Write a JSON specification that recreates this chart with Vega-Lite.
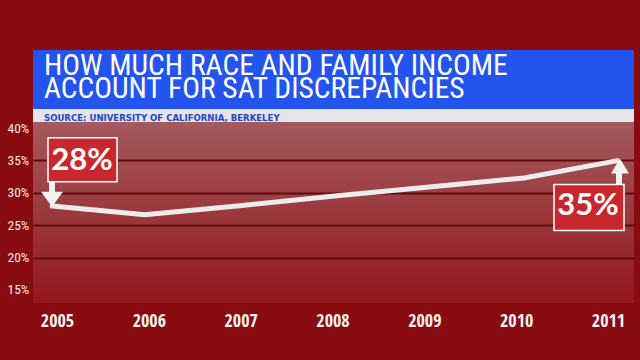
{
  "$schema": "https://vega.github.io/schema/vega-lite/v6.json",
  "background": "#870b0f",
  "padding": {"left": 7, "top": 50, "right": 10, "bottom": 40},
  "autosize": {"type": "pad"},
  "bounds": "flush",
  "spacing": 0,
  "config": {"view": {"stroke": null}, "font": "Roboto Condensed, Roboto, sans-serif"},
  "datasets": {
    "sat": [
      {"year": 2005, "value": 28},
      {"year": 2006, "value": 26.6},
      {"year": 2007, "value": 28.0},
      {"year": 2008, "value": 29.5},
      {"year": 2009, "value": 30.9},
      {"year": 2010, "value": 32.3},
      {"year": 2011, "value": 35}
    ],
    "callouts": [
      {"year": 2005, "value": 28, "label": "28%"},
      {"year": 2011, "value": 35, "label": "35%"}
    ]
  },
  "vconcat": [
    {
      "width": 601,
      "height": 59,
      "view": {"fill": "#2354ee", "stroke": null},
      "title": {
        "text": ["HOW MUCH RACE AND FAMILY INCOME", "ACCOUNT FOR SAT DISCREPANCIES"],
        "anchor": "start", "orient": "top", "frame": "group",
        "offset": -54, "dx": 11, "baseline": "top",
        "font": "Roboto Condensed", "fontSize": 29.5, "fontWeight": "normal",
        "color": "#ffffff", "lineHeight": 23
      },
      "data": {"values": []},
      "mark": "point"
    },
    {
      "width": 601,
      "height": 13,
      "view": {"fill": "#e4e4ea", "stroke": null},
      "title": {
        "text": "SOURCE: UNIVERSITY OF CALIFORNIA, BERKELEY",
        "anchor": "start", "orient": "top", "frame": "group",
        "offset": -13, "dx": 11, "baseline": "top",
        "font": "DejaVu Sans Condensed", "fontSize": 9.5, "fontWeight": "bold",
        "color": "#2446c4"
      },
      "data": {"values": []},
      "mark": "point"
    },
    {
      "width": 601,
      "height": 181,
      "view": {
        "fill": {"gradient": "linear", "x1": 0, "y1": 0, "x2": 0, "y2": 1,
          "stops": [{"offset": 0, "color": "#a35a5e"}, {"offset": 1, "color": "#93171b"}]},
        "stroke": null
      },
      "encoding": {
        "x": {
          "field": "year", "type": "quantitative",
          "scale": {"domain": [2004.8207, 2011.1582], "nice": false, "zero": false},
          "axis": {
            "title": null, "values": [2005, 2006, 2007, 2008, 2009, 2010, 2011], "format": "d",
            "grid": false, "ticks": false, "tickSize": 0, "domain": false,
            "labelFontSize": 18, "labelFontWeight": "bold", "labelColor": "#f2f2f2",
            "labelFont": "Open Sans Condensed", "labelPadding": 9,
            "labelFlush": false, "labelOverlap": false, "labelBaseline": "top",
            "labelOffset": {
              "condition": [
                {"test": "datum.value == 2005", "value": 7},
                {"test": "datum.value == 2006", "value": 4},
                {"test": "datum.value == 2007", "value": 1},
                {"test": "datum.value == 2008", "value": -2},
                {"test": "datum.value == 2009", "value": -5},
                {"test": "datum.value == 2010", "value": -8},
                {"test": "datum.value == 2011", "value": -11}
              ],
              "value": 0
            }
          }
        },
        "y": {
          "field": "value", "type": "quantitative",
          "scale": {"domain": [12.99, 40.93], "nice": false, "zero": false},
          "axis": {
            "title": null, "values": [15, 20, 25, 30, 35, 40], "labelExpr": "datum.value + '%'",
            "ticks": false, "tickSize": 0, "domain": false,
            "labelAlign": "left", "labelPadding": 26, "labelBaseline": "middle",
            "labelFontSize": 13.5, "labelColor": "#f4eaea", "labelFont": "Roboto Condensed",
            "labelFlush": false, "labelOverlap": false,
            "grid": true, "gridWidth": 2,
            "gridColor": {"condition": {"test": "datum.value == 15 || datum.value == 40", "value": "rgba(0,0,0,0)"}, "value": "#5e0a0e"}
          }
        }
      },
      "layer": [
        {
          "data": {"name": "sat"},
          "mark": {"type": "line", "color": "#ececec", "strokeWidth": 5, "strokeJoin": "miter"}
        },
        {
          "data": {"name": "callouts"},
          "mark": {"type": "point", "filled": true, "fill": "#f2f2f2", "opacity": 1, "size": 400, "strokeWidth": 0},
          "encoding": {
            "shape": {
              "field": "label", "type": "nominal", "legend": null,
              "scale": {"domain": ["28%", "35%"], "range": [
                "M-0.1,-2.5L0.5,-2.5L0.5,-1.4L1.3,-1.4L0.2,0.1L-0.9,-1.4L-0.1,-1.4Z",
                "M-0.3,2.5L0.3,2.5L0.3,1.3L1.0,1.3L0.1,-0.2L-0.8,1.3L-0.3,1.3Z"
              ]}
            }
          }
        },
        {
          "data": {"name": "callouts"},
          "mark": {"type": "point", "filled": true, "fill": "#c8282d", "stroke": "#ffffff", "strokeWidth": 1.5, "opacity": 1, "size": 400},
          "encoding": {
            "shape": {
              "field": "label", "type": "nominal", "legend": null,
              "scale": {"domain": ["28%", "35%"], "range": [
                "M-0.2,-6.8L6.7,-6.8L6.7,-2.4L-0.2,-2.4Z",
                "M-6.5,2.4L0.5,2.4L0.5,7.0L-6.5,7.0Z"
              ]}
            }
          }
        },
        {
          "data": {"name": "callouts"},
          "transform": [{"filter": "datum.year == 2005"}],
          "mark": {"type": "text", "dx": 32, "dy": -45, "font": "Lato", "fontWeight": "bold", "fontSize": 31, "color": "#ffffff", "baseline": "middle", "align": "center"},
          "encoding": {"text": {"field": "label"}}
        },
        {
          "data": {"name": "callouts"},
          "transform": [{"filter": "datum.year == 2011"}],
          "mark": {"type": "text", "dx": -31, "dy": 46, "font": "Lato", "fontWeight": "bold", "fontSize": 31, "color": "#ffffff", "baseline": "middle", "align": "center"},
          "encoding": {"text": {"field": "label"}}
        }
      ],
      "resolve": {"scale": {"shape": "independent"}}
    }
  ]
}
